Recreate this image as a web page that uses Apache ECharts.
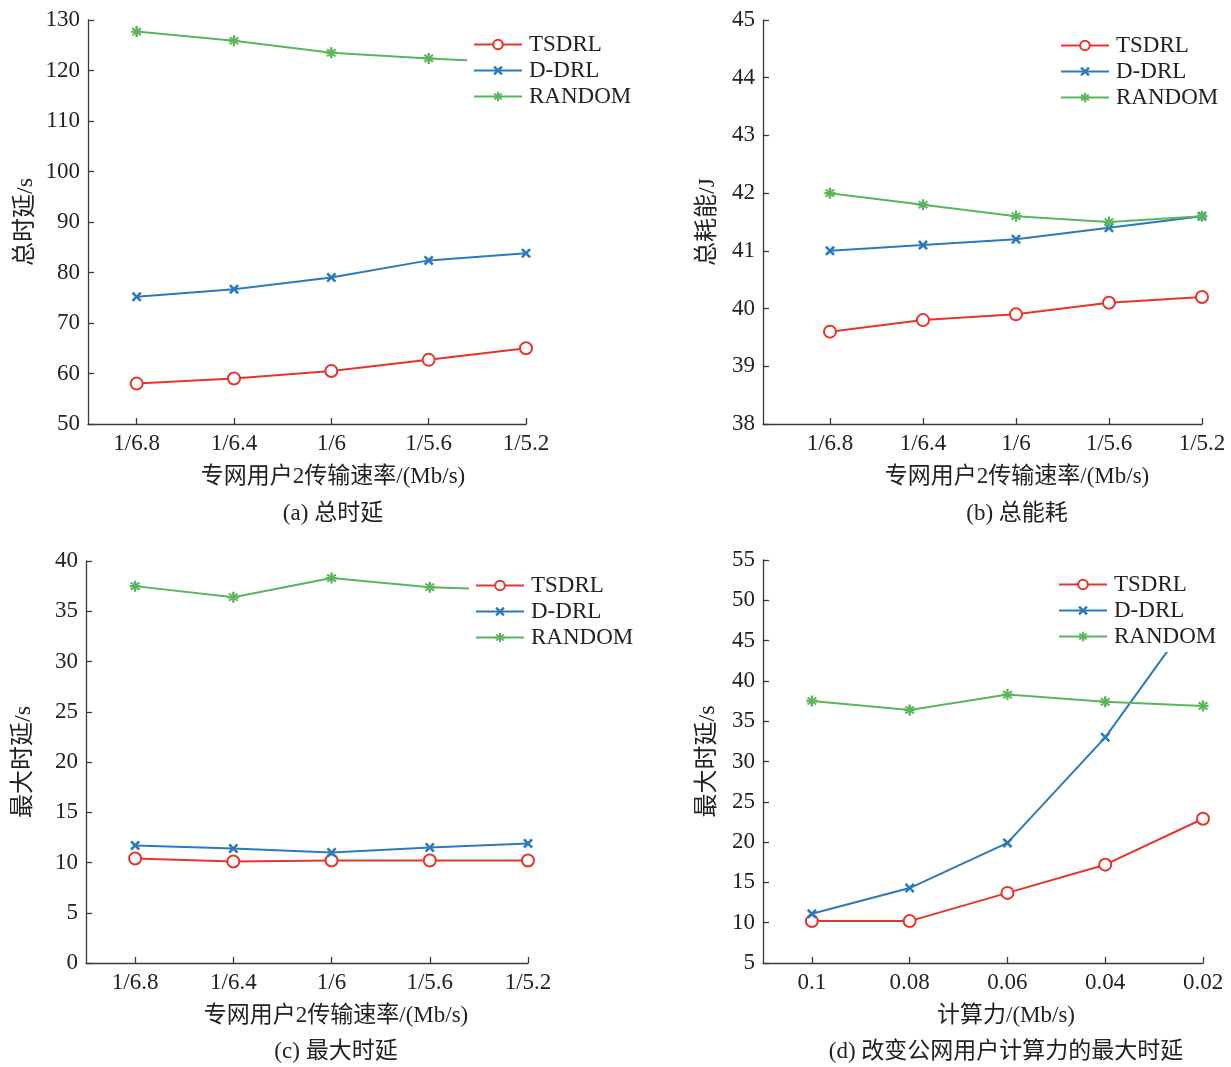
<!DOCTYPE html>
<html>
<head>
<meta charset="utf-8">
<script src="https://cdn.jsdelivr.net/npm/echarts@6/dist/echarts.min.js"></script>
<style>
html,body{margin:0;padding:0;background:#fff;}
#chart{width:1231px;height:1067px;}
</style>
</head>
<body>
<div id="chart"></div>
<script>
// ---- data ----
const catsRate = ['1/6.8', '1/6.4', '1/6', '1/5.6', '1/5.2'];
const catsComp = ['0.1', '0.08', '0.06', '0.04', '0.02'];
const seriesNames = ['TSDRL', 'D-DRL', 'RANDOM'];

const a_TSDRL = [58.0, 59.0, 60.5, 62.7, 65.0];
const a_DDRL = [75.2, 76.7, 79.0, 82.4, 83.8];
const a_RANDOM = [127.7, 125.9, 123.5, 122.4, 121.5];

const b_TSDRL = [39.6, 39.8, 39.9, 40.1, 40.2];
const b_DDRL = [41.0, 41.1, 41.2, 41.4, 41.6];
const b_RANDOM = [42.0, 41.8, 41.6, 41.5, 41.6];

const c_TSDRL = [10.4, 10.1, 10.2, 10.2, 10.2];
const c_DDRL = [11.7, 11.4, 11.0, 11.5, 11.9];
const c_RANDOM = [37.5, 36.4, 38.3, 37.4, 37.1];

const d_TSDRL = [10.2, 10.2, 13.7, 17.2, 22.9];
const d_DDRL = [11.1, 14.3, 19.9, 33.0, 49.8];
const d_RANDOM = [37.5, 36.4, 38.3, 37.4, 36.9];

const yNames = ['总时延/s', '总耗能/J', '最大时延/s', '最大时延/s'];
const xNames = ['专网用户2传输速率/(Mb/s)', '专网用户2传输速率/(Mb/s)', '专网用户2传输速率/(Mb/s)', '计算力/(Mb/s)'];
const captions = ['(a) 总时延', '(b) 总能耗', '(c) 最大时延', '(d) 改变公网用户计算力的最大时延'];

// ---- styling ----
const COLORS = ['#e8332c', '#2a7ab9', '#5bb55c'];
const SERIF = "'Liberation Serif', 'Noto Sans CJK SC', serif";
const AXIS_COLOR = '#3a3a3a';
const TEXT_COLOR = '#222';
const SYM_X = 'path://M0,1.8 L1.8,0 L5,3.2 L8.2,0 L10,1.8 L6.8,5 L10,8.2 L8.2,10 L5,6.8 L1.8,10 L0,8.2 L3.2,5 Z';
const SYM_AST = 'path://M3.9,0 L6.1,0 L6.1,2.9 L8.3,1.1 L9.6,2.6 L7.1,3.9 L10,3.9 L10,6.1 L7.1,6.1 L9.6,7.4 L8.3,8.9 L6.1,7.1 L6.1,10 L3.9,10 L3.9,7.1 L1.7,8.9 L0.4,7.4 L2.9,6.1 L0,6.1 L0,3.9 L2.9,3.9 L0.4,2.6 L1.7,1.1 L3.9,2.9 Z';

const panels = [
  {grid: {left: 88, top: 20, width: 438, height: 404}, xmin: 0.5, y: [50, 130, 10], cats: catsRate,
   data: [a_TSDRL, a_DDRL, a_RANDOM], nameGap: 50, legend: {left: 467, top: 29}, xc: 333, xnY: 477, capY: 514},
  {grid: {left: 763, top: 20, width: 439, height: 404}, xmin: 0.28, y: [38, 45, 1], cats: catsRate,
   data: [b_TSDRL, b_DDRL, b_RANDOM], nameGap: 43, legend: {left: 1054, top: 30}, xc: 1017, xnY: 477, capY: 514},
  {grid: {left: 86, top: 561, width: 442, height: 402}, xmin: 0.5, y: [0, 40, 5], cats: catsRate,
   data: [c_TSDRL, c_DDRL, c_RANDOM], nameGap: 50, legend: {left: 469, top: 570}, xc: 336, xnY: 1016, capY: 1052},
  {grid: {left: 763, top: 560, width: 440, height: 403}, xmin: 0.5, y: [5, 55, 5], cats: catsComp,
   data: [d_TSDRL, d_DDRL, d_RANDOM], nameGap: 43, legend: {left: 1052, top: 569}, xc: 1006, xnY: 1016, capY: 1052}
];

const positions = [1, 2, 3, 4, 5];
const symbols = ['emptyCircle', SYM_X, SYM_AST];
const symbolSizes = [12, 10, 11];

const option = {
  animation: false,
  backgroundColor: '#fff',
  grid: [], xAxis: [], yAxis: [], series: [], legend: [], graphic: []
};

panels.forEach((p, i) => {
  option.grid.push(Object.assign({containLabel: false}, p.grid));
  option.xAxis.push({
    type: 'value', gridIndex: i, min: p.xmin, max: 5,
    axisLine: {show: true, onZero: false, lineStyle: {color: AXIS_COLOR, width: 1.3}},
    axisTick: {show: true, inside: true, length: 6, customValues: positions, lineStyle: {color: AXIS_COLOR, width: 1.3}},
    axisLabel: {show: true, customValues: positions, margin: 8, fontSize: 23, fontFamily: SERIF, color: TEXT_COLOR,
      formatter: (v) => p.cats[Math.round(v) - 1]},
    splitLine: {show: false}
  });
  option.yAxis.push({
    type: 'value', gridIndex: i, min: p.y[0], max: p.y[1], interval: p.y[2],
    name: yNames[i], nameLocation: 'middle', nameGap: p.nameGap,
    nameTextStyle: {fontSize: 24, fontFamily: SERIF, color: TEXT_COLOR},
    axisLine: {show: true, lineStyle: {color: AXIS_COLOR, width: 1.3}},
    axisTick: {show: true, inside: true, length: 6, lineStyle: {color: AXIS_COLOR, width: 1.3}},
    axisLabel: {margin: 8, fontSize: 23, fontFamily: SERIF, color: TEXT_COLOR},
    splitLine: {show: false}
  });
  seriesNames.forEach((nm, k) => {
    option.series.push({
      type: 'line', name: nm, xAxisIndex: i, yAxisIndex: i,
      data: p.data[k].map((v, j) => [positions[j], v]),
      symbol: symbols[k], symbolSize: symbolSizes[k], showAllSymbol: true,
      lineStyle: {color: COLORS[k], width: 2},
      itemStyle: k === 0
        ? {color: COLORS[k], borderColor: COLORS[k], borderWidth: 2.2}
        : {color: COLORS[k], borderWidth: 0},
      color: COLORS[k],
      z: 2
    });
  });
  option.legend.push({
    orient: 'vertical', left: p.legend.left, top: p.legend.top,
    data: seriesNames, itemWidth: 48, itemHeight: 12, itemGap: 3,
    padding: [4, 8, 4, 6], backgroundColor: '#fff',
    textStyle: {fontSize: 23, fontFamily: SERIF, color: TEXT_COLOR, padding: [0, 0, 0, 2]},
    selectedMode: false, z: 10
  });
  option.graphic.push({
    type: 'text', x: p.xc, y: p.xnY, z: 20,
    style: {text: xNames[i], fontSize: 23, fontFamily: SERIF, fill: TEXT_COLOR, textAlign: 'center', textVerticalAlign: 'middle'}
  });
  option.graphic.push({
    type: 'text', x: p.xc, y: p.capY, z: 20,
    style: {text: captions[i], fontSize: 23, fontFamily: SERIF, fill: TEXT_COLOR, textAlign: 'center', textVerticalAlign: 'middle'}
  });
});

const chart = echarts.init(document.getElementById('chart'), null, {renderer: 'canvas'});
chart.setOption(option);
</script>
</body>
</html>
